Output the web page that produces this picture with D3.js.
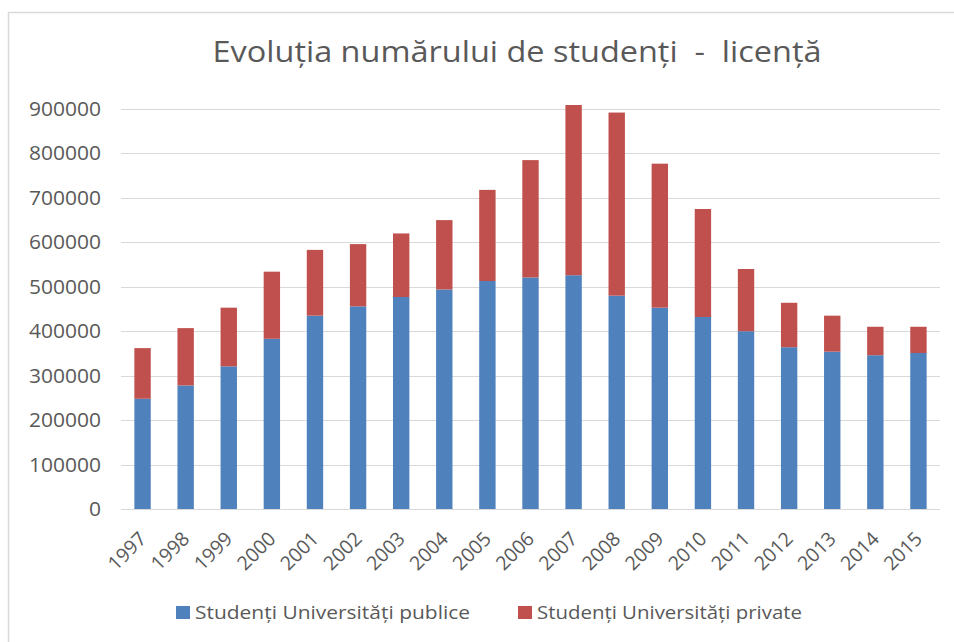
<!DOCTYPE html>
<html lang="ro">
<head>
<meta charset="utf-8">
<title>Evoluția numărului de studenți - licență</title>
<script src="https://d3js.org/d3.v7.min.js"></script>
<style>
  body { margin: 0; background: #fff; }
  text { font-family: "Open Sans", sans-serif; fill: #595959; }
</style>
</head>
<body>
<div id="viz"></div>
<script>
// data
const years = ["1997","1998","1999","2000","2001","2002","2003","2004","2005","2006",
               "2007","2008","2009","2010","2011","2012","2013","2014","2015"];
const publice = [248000, 278000, 321000, 383000, 435000, 456000, 477000, 494000, 513000, 521000,
                 526000, 480000, 453000, 432000, 400000, 364000, 354000, 346000, 351000];
const private_ = [114000, 129000, 132000, 151000, 148000, 140000, 143000, 156000, 205000, 264000,
                  383000, 412000, 324000, 243000, 140000, 100000, 81000, 64000, 59000];
const yTicks = [0, 100000, 200000, 300000, 400000, 500000, 600000, 700000, 800000, 900000];
const seriesNames = ["Studenți Universități publice", "Studenți Universități private"];
const colors = ["#4f81bd", "#c0504d"];

const W = 954, H = 642;
const margin = {top: 109, right: 14, bottom: 133, left: 121};

const svg = d3.select("#viz").append("svg")
    .attr("width", W).attr("height", H);

// chart frame
svg.append("rect")
    .attr("x", 8.5).attr("y", 12.5)
    .attr("width", W).attr("height", H)
    .attr("fill", "none").attr("stroke", "#d9d9d9").attr("stroke-width", 1.5);

const x = d3.scaleBand().domain(years)
    .range([margin.left, W - margin.right])
    .paddingInner(0.62).paddingOuter(0.31);
const y = d3.scaleLinear().domain([0, 900000])
    .range([H - margin.bottom, margin.top]);

// gridlines
svg.append("g").selectAll("line").data(yTicks).join("line")
    .attr("x1", margin.left).attr("x2", W - margin.right)
    .attr("y1", d => Math.round(y(d)) + 0.5).attr("y2", d => Math.round(y(d)) + 0.5)
    .attr("stroke", "#d9d9d9").attr("stroke-width", 1);

// y labels (reference font is a bit wider, so stretch)
svg.append("g").selectAll("text").data(yTicks).join("text")
    .attr("x", 101).attr("y", d => y(d))
    .attr("dy", "0.35em").attr("text-anchor", "end")
    .style("font-size", "20px")
    .attr("textLength", d => String(d).length * 12)
    .attr("lengthAdjust", "spacingAndGlyphs")
    .text(d => d);

// stacked bars
const rows = years.map((yr, i) => ({year: yr, publice: publice[i], private: private_[i]}));
const stack = d3.stack().keys(["publice", "private"])(rows);

svg.append("g").selectAll("g").data(stack).join("g")
    .attr("fill", (d, i) => colors[i])
    .selectAll("rect").data(d => d).join("rect")
        .attr("x", d => x(d.data.year))
        .attr("width", x.bandwidth())
        .attr("y", d => y(d[1]))
        .attr("height", d => y(d[0]) - y(d[1]));

// x labels
svg.append("g").selectAll("text").data(years).join("text")
    .attr("text-anchor", "end")
    .attr("transform", d => `translate(${x(d) + x.bandwidth() / 2 + 5},${H - margin.bottom + 31}) rotate(-45)`)
    .style("font-size", "19.5px")
    .text(d => d);

// title
svg.append("text")
    .attr("x", 517).attr("y", 62)
    .attr("text-anchor", "middle")
    .style("font-size", "28.5px")
    .attr("xml:space", "preserve")
    .attr("textLength", 609)
    .attr("lengthAdjust", "spacingAndGlyphs")
    .text("Evoluția numărului de studenți  -  licență");

// legend
const legendX = [176, 518];
const legendLen = [275, 265];
const leg = svg.append("g").selectAll("g").data(seriesNames).join("g")
    .attr("transform", (d, i) => `translate(${legendX[i]},606)`);
leg.append("rect").attr("width", 14).attr("height", 13)
    .attr("fill", (d, i) => colors[i]);
leg.append("text").attr("x", 19).attr("y", 13)
    .style("font-size", "18.5px")
    .attr("textLength", (d, i) => legendLen[i])
    .attr("lengthAdjust", "spacingAndGlyphs")
    .text(d => d);
</script>
</body>
</html>
